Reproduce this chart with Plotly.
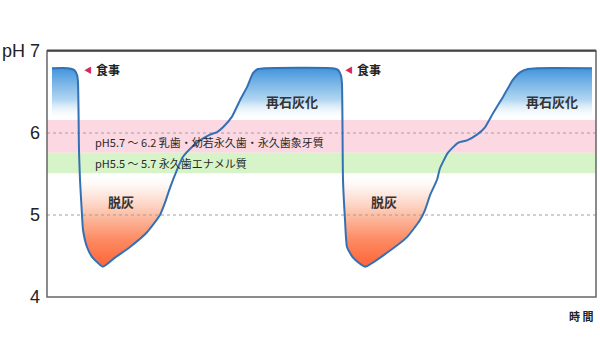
import plotly.graph_objects as go

# time (arbitrary units) and pH readings
time = [5, 21, 27, 30, 31, 32, 33, 35, 36, 40, 45, 56, 68, 83, 100, 113, 118, 123, 130, 136,
        145, 153, 163, 170, 176, 185, 193, 200, 206, 211, 218, 285, 291, 294, 295, 296, 298,
        300, 306, 318, 340, 360, 373, 378, 383, 390, 393, 401, 411, 420, 430, 438, 446, 456,
        466, 473, 481, 490, 545]
ph = [6.79, 6.79, 6.77, 6.71, 6.62, 5.79, 5.43, 5.00, 4.82, 4.61, 4.49, 4.37, 4.48, 4.61, 4.79,
      5.00, 5.15, 5.33, 5.55, 5.71, 5.83, 5.91, 5.98, 6.01, 6.07, 6.20, 6.40, 6.56, 6.73, 6.78,
      6.79, 6.79, 6.77, 6.70, 6.59, 5.43, 4.94, 4.61, 4.48, 4.37, 4.54, 4.73, 4.94, 5.06, 5.24,
      5.43, 5.57, 5.76, 5.88, 5.91, 5.98, 6.07, 6.24, 6.44, 6.65, 6.74, 6.78, 6.79, 6.79]

fill_base = 5.8
band_pink = [5.76, 6.16]
band_green = [5.51, 5.76]
band_labels = ["pH5.7 ～ 6.2 乳歯・幼若永久歯・永久歯象牙質", "pH5.5 ～ 5.7 永久歯エナメル質"]
grid_levels = [5, 6]
tick_vals = [4, 5, 6, 7]
tick_text = ["4", "5", "6", "pH 7"]
meal_times = [41, 302]
remin_times = [245, 505]
demin_times = [74, 337]

JP = "Noto Sans CJK JP"
fig = go.Figure()

# baseline for fill
fig.add_trace(go.Scatter(x=[time[0], time[-1]], y=[fill_base, fill_base], mode="lines",
                         line=dict(width=0), hoverinfo="skip", showlegend=False))
ymin, ymax = min(ph), max(ph)
fig.add_trace(go.Scatter(
    x=time, y=ph, mode="lines", line=dict(width=0, shape="spline", smoothing=0.5),
    fill="tonexty",
    fillgradient=dict(type="vertical", start=ymin, stop=ymax, colorscale=[
        [0.0, "rgb(255,100,55)"],
        [0.14, "rgb(252,140,100)"],
        [0.26, "rgb(252,190,165)"],
        [0.38, "rgba(253,232,224,0.8)"],
        [0.47, "rgba(255,255,255,0)"],
        [0.74, "rgba(255,255,255,0)"],
        [0.84, "rgba(170,210,240,0.9)"],
        [1.0, "rgb(65,148,220)"],
    ]),
    hoverinfo="skip", showlegend=False))

for g in grid_levels:
    fig.add_trace(go.Scatter(x=[0, 549], y=[g, g], mode="lines",
                             line=dict(color="#a0a0a0", width=1, dash="3px,3px"),
                             hoverinfo="skip", showlegend=False))

fig.add_trace(go.Scatter(x=time, y=ph, mode="lines",
                         line=dict(color="rgb(52,112,180)", width=2, shape="spline", smoothing=0.5),
                         hoverinfo="skip", showlegend=False))

fig.add_shape(type="rect", xref="x", yref="y", x0=0, x1=549, y0=band_pink[0], y1=band_pink[1],
              fillcolor="rgb(252,216,226)", line=dict(width=0), layer="below")
fig.add_shape(type="rect", xref="x", yref="y", x0=0, x1=549, y0=band_green[0], y1=band_green[1],
              fillcolor="rgb(214,244,200)", line=dict(width=0), layer="below")
# frame
fig.add_shape(type="rect", xref="paper", yref="paper", x0=0, x1=1, y0=0, y1=1,
              line=dict(color="#666", width=1.5), layer="above")
fig.add_shape(type="line", xref="paper", yref="paper", x0=0, x1=1, y0=1.002, y1=1.002,
              line=dict(color="#444", width=2), layer="above")

fig.add_annotation(x=46, y=5.89, text=band_labels[0], showarrow=False, xanchor="left",
                   font=dict(family=JP, size=11, color="#2a2a2a"))
fig.add_annotation(x=46, y=5.63, text=band_labels[1], showarrow=False, xanchor="left",
                   font=dict(family=JP, size=11, color="#2a2a2a"))

for t in meal_times:
    fig.add_annotation(x=t, y=6.78, text="◀", showarrow=False, xanchor="center",
                       font=dict(family=JP, size=8, color="rgb(214,40,90)"))
    fig.add_annotation(x=t + 6, y=6.78, text="<b>食事</b>", showarrow=False, xanchor="left",
                       font=dict(family=JP, size=12, color="#222"))
for t in remin_times:
    fig.add_annotation(x=t, y=6.39, text="<b>再石灰化</b>", showarrow=False,
                       font=dict(family=JP, size=13, color="#333"))
for t in demin_times:
    fig.add_annotation(x=t, y=5.16, text="<b>脱灰</b>", showarrow=False,
                       font=dict(family=JP, size=13, color="#333"))

fig.add_annotation(x=1, y=-0.037, xref="paper", yref="paper", text="<b>時 間</b>", showarrow=False,
                   xanchor="right", yanchor="top", font=dict(family=JP, size=11, color="#222"))

fig.update_xaxes(range=[0, 549], showgrid=False, zeroline=False, showticklabels=False,
                 showline=False, automargin=False)
fig.update_yaxes(range=[4, 7], tickvals=tick_vals, ticktext=tick_text, showgrid=False,
                 zeroline=False, showline=False, ticklabelstandoff=6, automargin=False,
                 tickfont=dict(family="Liberation Sans", size=18, color="#222"))

fig.update_layout(width=600, height=360, margin=dict(l=47, r=4, t=51, b=63),
                  plot_bgcolor="white", paper_bgcolor="white")

fig.write_html("out.html", config={"displayModeBar": False},
               post_script="document.body.style.margin='0';")
